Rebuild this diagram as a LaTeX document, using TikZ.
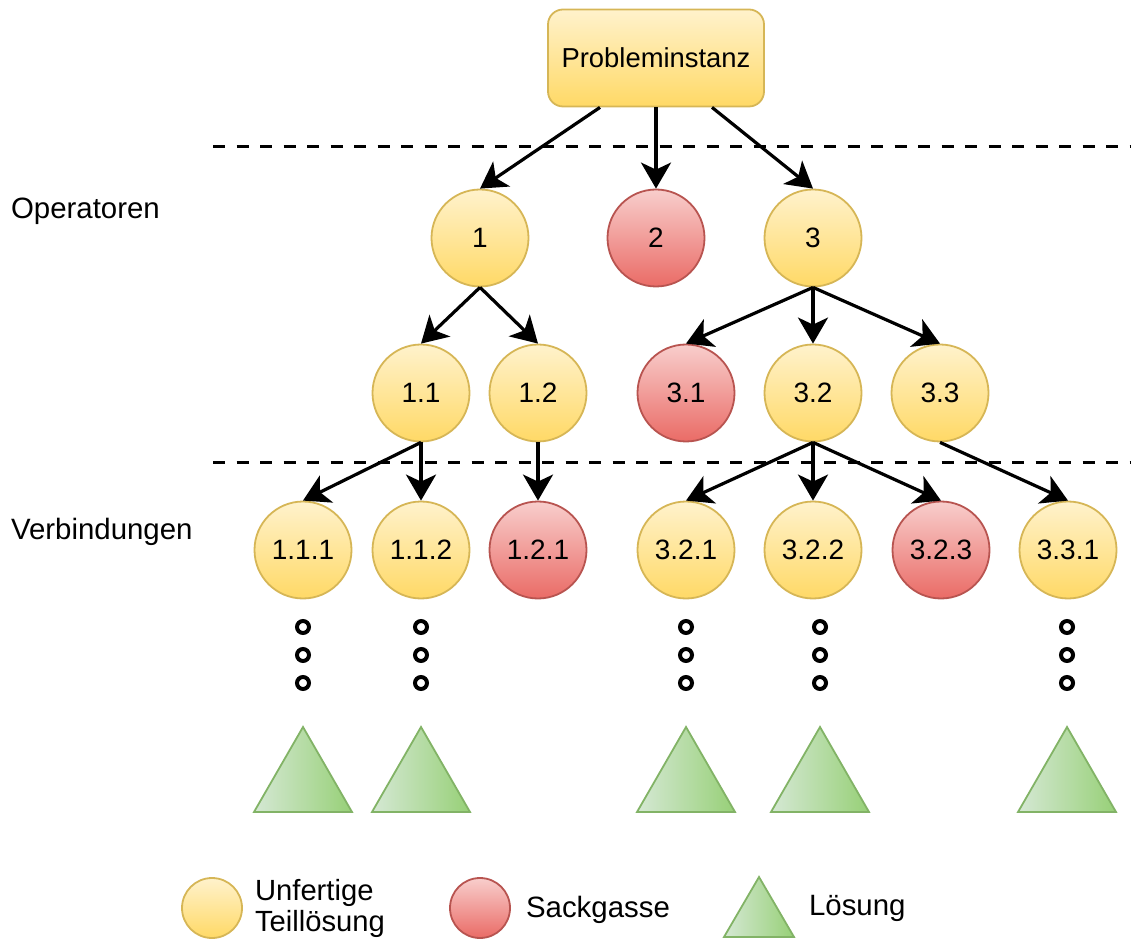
\documentclass[tikz,border=0pt]{standalone}
\usepackage{fontspec}
\setmainfont{Liberation Sans}
\usetikzlibrary{arrows.meta}

\definecolor{ylwtop}{HTML}{FFF2CC}
\definecolor{ylwbot}{HTML}{FFD966}
\definecolor{ylwline}{HTML}{D6B656}
\definecolor{redtop}{HTML}{F8CECC}
\definecolor{redbot}{HTML}{EA6B66}
\definecolor{redline}{HTML}{B85450}
\definecolor{grnleft}{HTML}{D5E8D4}
\definecolor{grnright}{HTML}{97D077}
\definecolor{grnline}{HTML}{82B366}

\begin{document}
\begin{tikzpicture}[x=0.5pt,y=-0.5pt,font=\fontsize{14}{17}\selectfont,
  part/.style={draw=ylwline,line width=0.9pt,circle,minimum size=48.5pt,inner sep=0pt,
    top color=ylwtop,bottom color=ylwbot},
  deadend/.style={part,draw=redline,top color=redtop,bottom color=redbot},
  sol/.style={draw=grnline,line width=0.9pt,left color=grnleft,right color=grnright},
  arr/.style={draw,line width=1.6pt,-{Stealth[length=13pt,width=15pt,inset=3.5pt]}},
  sepline/.style={line width=1.5pt,dash pattern=on 6pt off 5.75pt},
  dotmark/.style={line width=2pt},
  side/.style={anchor=west,font=\fontsize{14.7}{17}\selectfont}]
\useasboundingbox (0,0) rectangle (1134,940);

% Ebenen
\draw[sepline] (213,147) -- (1130,147);
\draw[sepline] (213,463) -- (1130,463);
\node[side] (ops) at (4,211) {Operatoren};
\node[side] (verb) at (4,532) {Verbindungen};

% Baum
\node[draw=ylwline,line width=0.9pt,rounded corners=7.5pt,minimum width=108pt,minimum height=48.5pt,
  top color=ylwtop,bottom color=ylwbot,font=\fontsize{13.7}{17}\selectfont] (prob) at (656,58) {Probleminstanz};
\node[part] (n1) at (480,238) {1};
\node[deadend] (n2) at (656,238) {2};
\node[part] (n3) at (813,238) {3};
\node[part] (n11) at (421,393) {1.1};
\node[part] (n12) at (538,393) {1.2};
\node[deadend] (n31) at (686,393) {3.1};
\node[part] (n32) at (813,393) {3.2};
\node[part] (n33) at (940,393) {3.3};
\node[part] (n111) at (303,550) {1.1.1};
\node[part] (n112) at (421,550) {1.1.2};
\node[deadend] (n121) at (538,550) {1.2.1};
\node[part] (n321) at (686,550) {3.2.1};
\node[part] (n322) at (813,550) {3.2.2};
\node[deadend] (n323) at (941,550) {3.2.3};
\node[part] (n331) at (1068,550) {3.3.1};

\draw[arr] ([xshift=-28pt]prob.south) -- (n1.north);
\draw[arr] (prob.south) -- (n2.north);
\draw[arr] ([xshift=28pt]prob.south) -- (n3.north);
\foreach \a/\b in {n1/n11,n1/n12,n3/n31,n3/n32,n3/n33,n11/n111,n11/n112,n12/n121,
  n32/n321,n32/n322,n32/n323,n33/n331}
  \draw[arr] (\a.south) -- (\b.north);

% Pfade bis zur Loesung
\foreach \x in {303,421,686,820,1067} {
  \foreach \y in {627,655,683}
    \draw[dotmark] (\x,\y) circle[radius=3pt];
  \draw[sol] (\x-49,812) -- (\x,727) -- (\x+49,812) -- cycle;
}

% Legende
\node[part,minimum size=30pt] (lgpart) at (212,908) {};
\node[side,align=left,font=\fontsize{14.6}{15.5}\selectfont] (lgparttxt) at (248,908) {Unfertige\\Teill\"osung};
\node[deadend,minimum size=30pt] (lgdead) at (480,908) {};
\node[side] (lgdeadtxt) at (519,910) {Sackgasse};
\draw[sol] (724,937) -- (759,877) -- (794,937) -- cycle;
\node[side] (lgsoltxt) at (802,908) {L\"osung};
\end{tikzpicture}
\end{document}
